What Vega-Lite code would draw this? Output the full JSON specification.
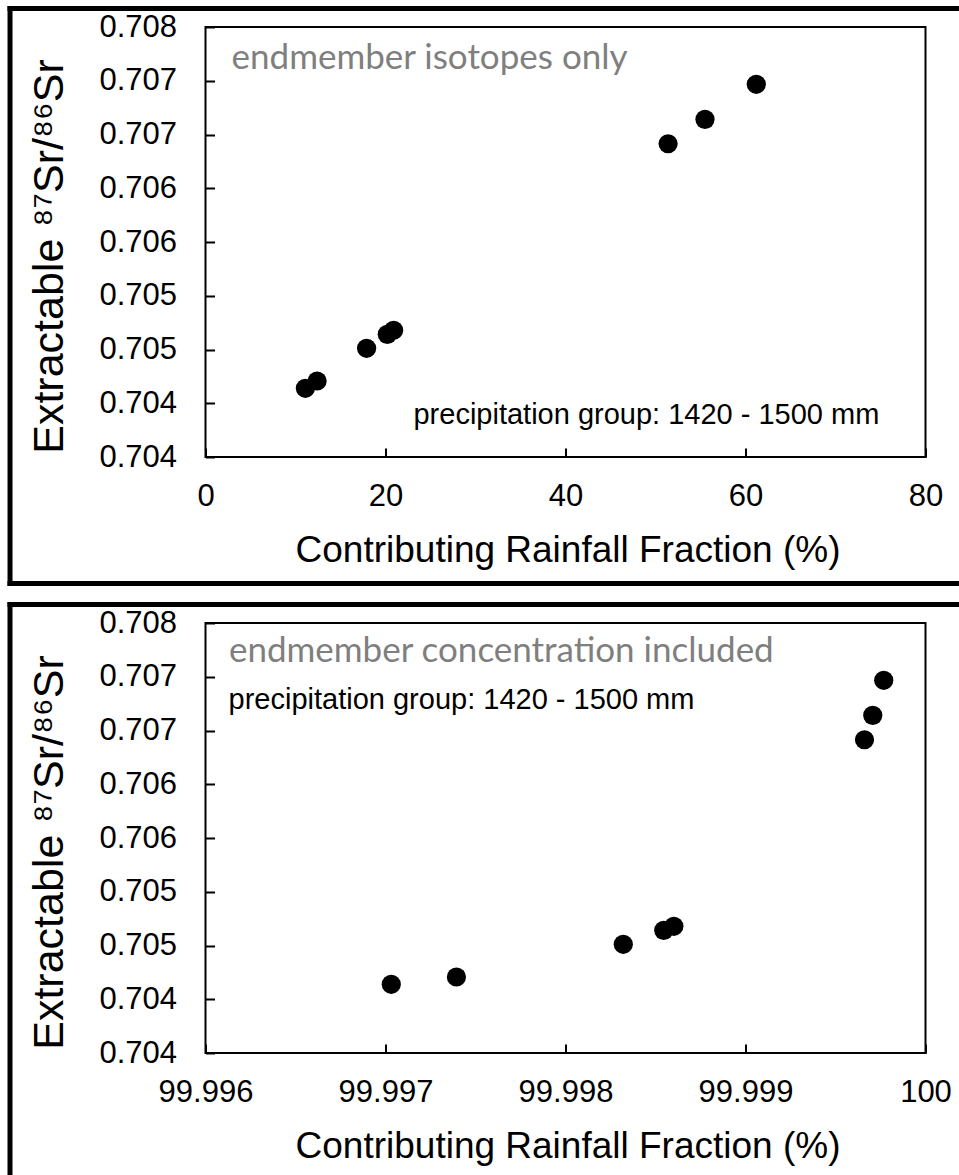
{
  "$schema": "https://vega.github.io/schema/vega-lite/v6.json",
  "padding": {"left": 4.5, "top": 3, "right": 0, "bottom": 0},
  "background": "white",
  "spacing": 10,
  "datasets": {
    "samples": [
      {"rain_iso": 11.1, "rain_conc": 99.997032, "sr": 0.704639},
      {"rain_iso": 12.4, "rain_conc": 99.997394, "sr": 0.704707},
      {"rain_iso": 17.9, "rain_conc": 99.998321, "sr": 0.705011},
      {"rain_iso": 20.2, "rain_conc": 99.998546, "sr": 0.705141},
      {"rain_iso": 20.9, "rain_conc": 99.998602, "sr": 0.705179},
      {"rain_iso": 51.4, "rain_conc": 99.999661, "sr": 0.706914},
      {"rain_iso": 55.5, "rain_conc": 99.999707, "sr": 0.707141},
      {"rain_iso": 61.2, "rain_conc": 99.999768, "sr": 0.707467}
    ]
  },
  "config": {
    "view": {"stroke": "black", "strokeWidth": 2},
    "axis": {
      "grid": false, "domain": false, "ticks": true, "tickColor": "black", "tickWidth": 2, "tickSize": -9,
      "labelFlush": false, "labelOverlap": false,
      "labelFont": "Liberation Sans", "labelFontSize": 31, "labelColor": "black",
      "titleFont": "Liberation Sans", "titleFontWeight": "normal", "titleColor": "black"
    }
  },
  "vconcat": [
    {
      "width": 720, "height": 430,
      "layer": [
        {
          "data": {"name": "samples"},
          "mark": {"type": "point", "filled": true, "shape": "circle", "size": 370, "color": "black", "opacity": 1},
          "encoding": {
            "x": {"field": "rain_iso", "type": "quantitative",
              "scale": {"domain": [0, 80], "nice": false, "zero": false},
              "axis": {"values": [0, 20, 40, 60, 80], "format": "d", "labelPadding": 33,
                "title": "Contributing Rainfall Fraction (%)", "titleFontSize": 37,
                "titleX": 362, "titleY": 104, "titleAlign": "center", "titleBaseline": "alphabetic", "titleAngle": 0}},
            "y": {"field": "sr", "type": "quantitative",
              "scale": {"domain": [0.704, 0.708], "nice": false, "zero": false},
              "axis": {"values": [0.704, 0.7045, 0.705, 0.7055, 0.706, 0.7065, 0.707, 0.7075, 0.708],
                "labelExpr": "format(floor(datum.value * 1000 + 0.001) / 1000, '.3f')", "labelPadding": 38, "labelBaseline": "middle",
                "title": "Extractable ⁸⁷Sr/⁸⁶Sr", "titleFontSize": 43,
                "titleX": -143, "titleY": 229, "titleAngle": -90, "titleAlign": "center", "titleBaseline": "alphabetic"}}
          }
        },
        {
          "data": {"values": [{}]},
          "mark": {"type": "rule", "color": "black", "strokeWidth": 5, "strokeCap": "square"},
          "encoding": {"x": {"datum": -21.72, "type": "quantitative"}, "x2": {"datum": 83.44}, "y": {"datum": 0.70817209, "type": "quantitative"}}
        },
        {
          "data": {"values": [{}]},
          "mark": {"type": "rule", "color": "black", "strokeWidth": 5, "strokeCap": "square"},
          "encoding": {"x": {"datum": -21.72, "type": "quantitative"}, "x2": {"datum": 83.44}, "y": {"datum": 0.70282326, "type": "quantitative"}}
        },
        {
          "data": {"values": [{}]},
          "mark": {"type": "rule", "color": "black", "strokeWidth": 5, "strokeCap": "square"},
          "encoding": {"x": {"datum": -21.72, "type": "quantitative"}, "y": {"datum": 0.70817209, "type": "quantitative"}, "y2": {"datum": 0.70282326}}
        },
        {
          "data": {"values": [{}]},
          "mark": {"type": "text", "text": "endmember isotopes only", "font": "Lato", "fontSize": 35, "color": "#7f7f7f", "align": "left", "baseline": "alphabetic"},
          "encoding": {"x": {"datum": 2.9, "type": "quantitative"}, "y": {"datum": 0.707609, "type": "quantitative"}}
        },
        {
          "data": {"values": [{}]},
          "mark": {"type": "text", "text": "precipitation group: 1420 - 1500 mm", "font": "Liberation Sans", "fontSize": 29, "color": "black", "align": "left", "baseline": "alphabetic"},
          "encoding": {"x": {"datum": 23.11, "type": "quantitative"}, "y": {"datum": 0.704307, "type": "quantitative"}}
        }
      ]
    },
    {
      "width": 720, "height": 430,
      "layer": [
        {
          "data": {"name": "samples"},
          "mark": {"type": "point", "filled": true, "shape": "circle", "size": 370, "color": "black", "opacity": 1},
          "encoding": {
            "x": {"field": "rain_conc", "type": "quantitative",
              "scale": {"domain": [99.996, 100], "nice": false, "zero": false},
              "axis": {"values": [99.996, 99.997, 99.998, 99.999, 100],
                "labelExpr": "datum.value >= 99.9999 ? '100' : format(datum.value, '.3f')", "labelPadding": 33,
                "title": "Contributing Rainfall Fraction (%)", "titleFontSize": 37,
                "titleX": 362, "titleY": 104, "titleAlign": "center", "titleBaseline": "alphabetic", "titleAngle": 0}},
            "y": {"field": "sr", "type": "quantitative",
              "scale": {"domain": [0.704, 0.708], "nice": false, "zero": false},
              "axis": {"values": [0.704, 0.7045, 0.705, 0.7055, 0.706, 0.7065, 0.707, 0.7075, 0.708],
                "labelExpr": "format(floor(datum.value * 1000 + 0.001) / 1000, '.3f')", "labelPadding": 38, "labelBaseline": "middle",
                "title": "Extractable ⁸⁷Sr/⁸⁶Sr", "titleFontSize": 43,
                "titleX": -143, "titleY": 229, "titleAngle": -90, "titleAlign": "center", "titleBaseline": "alphabetic"}}
          }
        },
        {
          "data": {"values": [{}]},
          "mark": {"type": "rule", "color": "black", "strokeWidth": 5, "strokeCap": "square"},
          "encoding": {"x": {"datum": 99.99491389, "type": "quantitative"}, "x2": {"datum": 100.00017222}, "y": {"datum": 0.70817209, "type": "quantitative"}}
        },
        {
          "data": {"values": [{}]},
          "mark": {"type": "rule", "color": "black", "strokeWidth": 5, "strokeCap": "square"},
          "encoding": {"x": {"datum": 99.99491389, "type": "quantitative"}, "y": {"datum": 0.70817209, "type": "quantitative"}, "y2": {"datum": 0.70287442}}
        },
        {
          "data": {"values": [{}]},
          "mark": {"type": "text", "text": "endmember concentration included", "font": "Lato", "fontSize": 35, "color": "#7f7f7f", "align": "left", "baseline": "alphabetic"},
          "encoding": {"x": {"datum": 99.99613, "type": "quantitative"}, "y": {"datum": 0.707637, "type": "quantitative"}}
        },
        {
          "data": {"values": [{}]},
          "mark": {"type": "text", "text": "precipitation group: 1420 - 1500 mm", "font": "Liberation Sans", "fontSize": 29, "color": "black", "align": "left", "baseline": "alphabetic"},
          "encoding": {"x": {"datum": 99.996128, "type": "quantitative"}, "y": {"datum": 0.7072, "type": "quantitative"}}
        }
      ]
    }
  ]
}
